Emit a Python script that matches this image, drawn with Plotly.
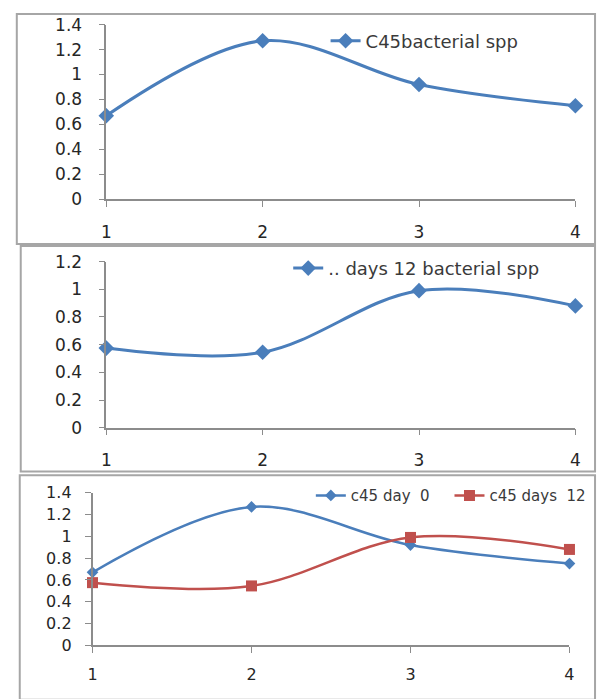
import plotly.graph_objects as go

W, H = 602, 699

x_days = [1, 2, 3, 4]
day0 = [0.67, 1.27, 0.92, 0.75]
day12 = [0.575, 0.545, 0.99, 0.88]

name_p1 = "C45bacterial spp"
name_p2 = ".. days 12 bacterial spp"
name_p3a = "c45 day  0"
name_p3b = "c45 days  12"

y_ticks_14 = [0, 0.2, 0.4, 0.6, 0.8, 1, 1.2, 1.4]
y_ticks_12 = [0, 0.2, 0.4, 0.6, 0.8, 1, 1.2]
y_labels_14 = ["0", "0.2", "0.4", "0.6", "0.8", "1", "1.2", "1.4"]
y_labels_12 = ["0", "0.2", "0.4", "0.6", "0.8", "1", "1.2"]

BLUE = "#4a7ebb"
RED = "#c0504d"
AXIS = "#8c8c8c"
BORDER = "#a6a6a6"
FAM = "DejaVu Sans, Liberation Sans, Arial, sans-serif"
TICKFONT = dict(family=FAM, size=17, color="#262626")
TICKFONT3 = dict(family=FAM, size=16, color="#262626")
LEGCOLOR = "#3a3a3a"


def px_x(p):
    return p / W


def px_y(p):
    return 1 - p / H


fig = go.Figure()

fig.add_trace(go.Scatter(
    x=x_days, y=day0, name=name_p1, mode="lines+markers",
    line=dict(color=BLUE, width=3, shape="spline", smoothing=1),
    marker=dict(symbol="diamond", size=12, color=BLUE),
    xaxis="x", yaxis="y", legend="legend", cliponaxis=False,
))
fig.add_trace(go.Scatter(
    x=x_days, y=day12, name=name_p2, mode="lines+markers",
    line=dict(color=BLUE, width=3, shape="spline", smoothing=1),
    marker=dict(symbol="diamond", size=12, color=BLUE),
    xaxis="x2", yaxis="y2", legend="legend2", cliponaxis=False,
))
fig.add_trace(go.Scatter(
    x=x_days, y=day0, name=name_p3a, mode="lines+markers",
    line=dict(color=BLUE, width=2.5, shape="spline", smoothing=1),
    marker=dict(symbol="diamond", size=9, color=BLUE),
    xaxis="x3", yaxis="y3", legend="legend3", cliponaxis=False,
))
fig.add_trace(go.Scatter(
    x=x_days, y=day12, name=name_p3b, mode="lines+markers",
    line=dict(color=RED, width=2.5, shape="spline", smoothing=1),
    marker=dict(symbol="square", size=11, color=RED),
    xaxis="x3", yaxis="y3", legend="legend4", cliponaxis=False,
))


def xaxis(domain, anchor, font, standoff):
    return dict(
        domain=domain, anchor=anchor, range=[1, 4], tickvals=x_days,
        ticktext=[str(v) for v in x_days], showgrid=False, zeroline=False,
        showline=True, linecolor=AXIS, linewidth=1.5, ticks="outside",
        ticklen=6, tickcolor=AXIS, tickfont=font, ticklabelstandoff=standoff,
        fixedrange=True,
    )


def yaxis(domain, anchor, top, vals, labels, font, standoff):
    return dict(
        domain=domain, anchor=anchor, range=[0, top], tickvals=vals,
        ticktext=labels, showgrid=False, zeroline=False, showline=True,
        linecolor=AXIS, linewidth=1.5, ticks="outside", ticklen=6,
        tickcolor=AXIS, tickfont=font, ticklabelstandoff=standoff,
        fixedrange=True,
    )


def legend(x, y, size):
    return dict(x=px_x(x), y=px_y(y), xanchor="left", yanchor="middle",
                bgcolor="rgba(0,0,0,0)", borderwidth=0,
                font=dict(family=FAM, size=size, color=LEGCOLOR))


fig.update_layout(
    width=W, height=H, autosize=False,
    margin=dict(l=0, r=0, t=0, b=0),
    paper_bgcolor="white", plot_bgcolor="white",
    xaxis=xaxis([px_x(103), px_x(580)], "y", TICKFONT, 10),
    yaxis=yaxis([px_y(195), px_y(15)], "x", 1.4, y_ticks_14, y_labels_14, TICKFONT, 13),
    xaxis2=xaxis([px_x(103), px_x(580)], "y2", TICKFONT, 10),
    yaxis2=yaxis([px_y(430), px_y(259)], "x2", 1.2, y_ticks_12, y_labels_12, TICKFONT, 13),
    xaxis3=xaxis([px_x(89), px_x(574)], "y3", TICKFONT3, 8),
    yaxis3=yaxis([px_y(654), px_y(497)], "x3", 1.4, y_ticks_14, y_labels_14, TICKFONT3, 10),
    legend=legend(326, 32, 18),
    legend2=legend(288, 266, 18),
    legend3=legend(311, 500, 15),
    legend4=legend(452, 500, 15),
    showlegend=True,
)

panels = [(12, 4, 600, 241), (16, 243, 600, 475), (15, 479, 600, 710)]
for x0, y0, x1, y1 in panels:
    fig.add_shape(type="rect", xref="paper", yref="paper",
                  x0=px_x(x0), x1=px_x(x1), y0=px_y(y1), y1=px_y(y0),
                  line=dict(color=BORDER, width=2), layer="below")

fig.write_html(
    "out.html",
    config={"displayModeBar": False},
    post_script="document.body.style.margin='0';document.body.style.overflow='hidden';"
                "document.documentElement.style.overflow='hidden';",
)
